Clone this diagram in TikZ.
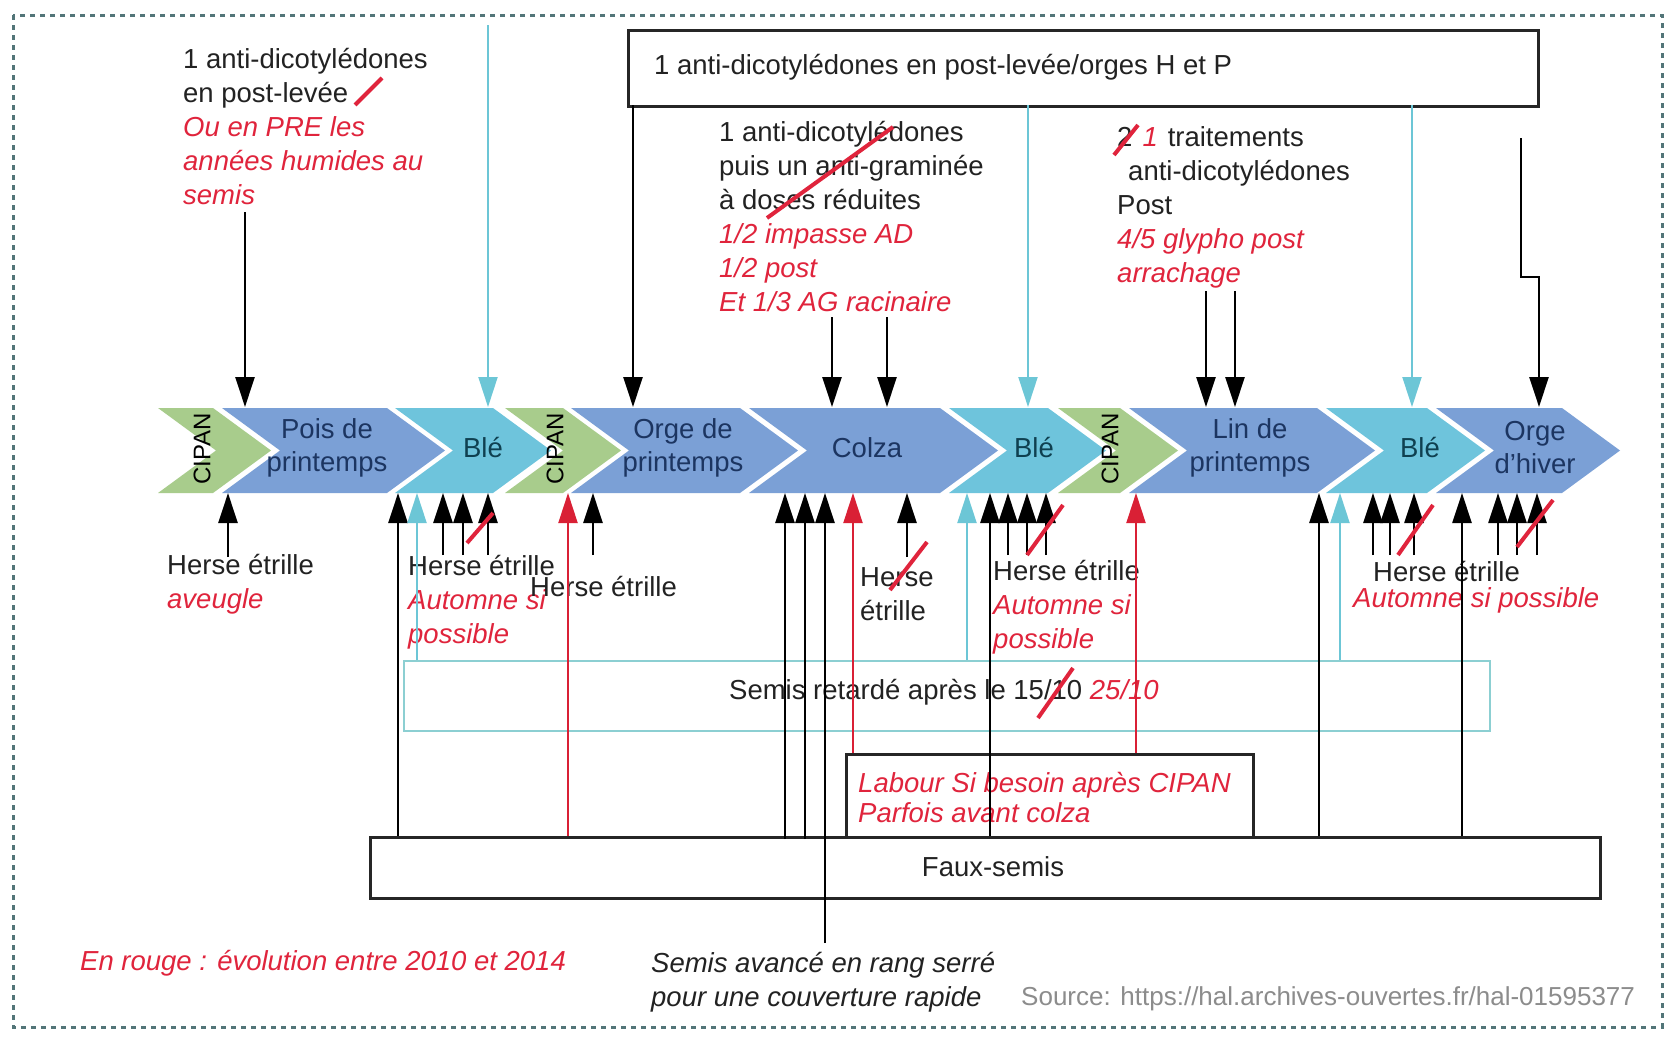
\documentclass[tikz,border=0pt]{standalone}
\usepackage{fontspec}
\setmainfont{Liberation Sans}
\usetikzlibrary{arrows.meta}
\definecolor{chblue}{HTML}{7BA0D6}
\definecolor{chcyan}{HTML}{6EC4DC}
\definecolor{chgreen}{HTML}{A8CC8C}
\definecolor{navy}{HTML}{1C3561}
\definecolor{bletxt}{HTML}{0F4050}
\definecolor{txtred}{HTML}{E0243C}
\definecolor{lnred}{HTML}{D92035}
\definecolor{lncyan}{HTML}{6CC6D6}
\definecolor{boxcyan}{HTML}{8CCFD2}
\definecolor{framecol}{HTML}{527578}
\definecolor{txtblack}{HTML}{222222}
\definecolor{srcgray}{HTML}{8C8C8C}
\newcommand\rt{\color{txtred}\itshape}
\newcommand\chevron[3]{\fill[#3] (#1,408) -- (#2,408) -- ({#2+58},450.5) -- (#2,493) -- (#1,493) -- ({#1+58},450.5) -- cycle;}
\tikzset{
  txt/.style={inner sep=0pt, align=left, anchor=north west, text=txtblack, font=\fontsize{27.5}{34}\selectfont},
  onel/.style={inner sep=0pt, anchor=west, text=txtblack, font=\fontsize{27.5}{34}\selectfont},
  chlab/.style={inner sep=0pt, align=center, text=navy, font=\fontsize{27.5}{33}\selectfont},
  cipan/.style={inner sep=0pt, rotate=90, text=black, font=\fontsize{24}{28}\selectfont},
  arr/.style={draw=black, line width=2.5pt, -{Triangle[length=30pt,width=19pt]}},
  carr/.style={draw=lncyan, line width=2pt, -{Triangle[length=30pt,width=19pt]}},
  rarr/.style={draw=lnred, line width=2pt, -{Triangle[length=30pt,width=19pt]}},
  slash/.style={draw=txtred, line width=4pt},
  bbox/.style={draw=black!85, line width=3pt, inner sep=0pt, anchor=north west},
  cbox/.style={draw=boxcyan, line width=2pt, inner sep=0pt, anchor=north west},
  frame/.style={draw=framecol, line width=3pt, dash pattern=on 5pt off 5pt}
}
\begin{document}
\begin{tikzpicture}[x=1pt,y=-1pt]
\useasboundingbox (0,0) rectangle (1668,1039);
\fill[white] (0,0) rectangle (1668,1039);
\draw[frame] (13,15) rectangle (1662,1027);

% chevrons
\chevron{158}{213}{chgreen}
\chevron{222}{387}{chblue}
\chevron{395}{493}{chcyan}
\chevron{505}{563}{chgreen}
\chevron{571}{740}{chblue}
\chevron{749}{940}{chblue}
\chevron{949}{1048}{chcyan}
\chevron{1058}{1120}{chgreen}
\chevron{1129}{1317}{chblue}
\chevron{1326}{1427}{chcyan}
\chevron{1436}{1562}{chblue}

\node[cipan] (cip1) at (202,449) {CIPAN};
\node[cipan] (cip2) at (555,449) {CIPAN};
\node[cipan] (cip3) at (1110,449) {CIPAN};
\node[chlab] (pois) at (327,448) {Pois de\\printemps};
\node[chlab, text=bletxt] (ble1) at (483,448) {Blé};
\node[chlab] (orgep) at (683,448) {Orge de\\printemps};
\node[chlab] (colza) at (867,448) {Colza};
\node[chlab, text=bletxt] (ble2) at (1034,448) {Blé};
\node[chlab] (lin) at (1250,448) {Lin de\\printemps};
\node[chlab, text=bletxt] (ble3) at (1420,448) {Blé};
\node[chlab] (orgeh) at (1535,448) {Orge\\d’hiver};

% boxes
\node[bbox, minimum width=910pt, minimum height=76pt] (topbox) at (627,29) {};
\node[onel] (topboxtxt) at (654,67) {1 anti-dicotylédones en post-levée/orges H et P};
\node[cbox, minimum width=1086pt, minimum height=70pt] (semisbox) at (403,660) {};
\node[onel] (semistxt) at (729,692) {Semis retardé après le 15/10 {\rt 25/10}};
\node[bbox, minimum width=407pt, minimum height=83pt] (labbox) at (845,753) {};
\node[txt, text=txtred, font=\fontsize{27.5}{30}\selectfont\itshape] (labtxt) at (858,772) {Labour Si besoin après CIPAN\\Parfois avant colza};
\node[bbox, minimum width=1230pt, minimum height=61pt] (fauxbox) at (369,836) {};
\node[onel, anchor=center] (fauxtxt) at (993,867) {Faux-semis};

% top texts
\node[txt] (ta) at (183,48) {1 anti-dicotylédones\\en post-levée\\{\rt Ou en PRE les}\\{\rt années humides au}\\{\rt semis}};
\node[txt] (tb) at (719,121) {1 anti-dicotylédones\\puis un anti-graminée\\à doses réduites\\{\rt 1/2 impasse AD}\\{\rt 1/2 post}\\{\rt Et 1/3 AG racinaire}};
\node[txt] (tc) at (1117,126) {2\hspace*{10pt}{\rt 1}\hspace*{10pt}traitements\\\hspace*{11pt}anti-dicotylédones\\Post\\{\rt 4/5 glypho post}\\{\rt arrachage}};

% lower texts
\node[txt] (h1) at (167,554) {Herse étrille\\{\rt aveugle}};
\node[txt] (h2) at (408,555) {Herse étrille\\{\rt Automne si}\\{\rt possible}};
\node[onel] (h3) at (530,587) {Herse étrille};
\node[txt] (h4) at (860,567) {Herse\\étrille};
\node[txt] (h5) at (993,560) {Herse étrille\\{\rt Automne si}\\{\rt possible}};
\node[onel] (h6) at (1373,572) {Herse étrille};
\node[onel, text=txtred, font=\fontsize{27.5}{34}\selectfont\itshape] (h6b) at (1353,600) {Automne si possible};
\node[onel, text=txtred, font=\fontsize{27.5}{34}\selectfont\itshape] (legend) at (80,963) {En rouge : évolution entre 2010 et 2014};
\node[txt, font=\fontsize{27.5}{34}\selectfont\itshape] (avance) at (651,952) {Semis avancé en rang serré\\pour une couverture rapide};
\node[onel, text=srcgray, font=\fontsize{26}{30}\selectfont] (src) at (1021,999) {Source: https://hal.archives-ouvertes.fr/hal-01595377};

% down arrows
\draw[arr] (245,212) -- (245,407);
\draw[carr] (488,25) -- (488,407);
\draw[arr] (633,105) -- (633,407);
\draw[carr] (1028,105) -- (1028,407);
\draw[carr] (1412,105) -- (1412,407);
\draw[arr] (832,317) -- (832,407);
\draw[arr] (887,317) -- (887,407);
\draw[arr] (1206,291) -- (1206,407);
\draw[arr] (1235,291) -- (1235,407);
\draw[arr] (1521,138) -- (1521,277) -- (1539,277) -- (1539,407);

% up arrows
\foreach \x in {443,463,488,593,1008,1027,1046,1373,1390,1414,1498,1517,1537}
  \draw[arr] (\x,555) -- (\x,493);
\draw[arr] (228,557) -- (228,493);
\draw[arr] (907,557) -- (907,493);
\foreach \x in {398,990,1319,1462}
  \draw[arr] (\x,836) -- (\x,493);
\draw[arr] (785,839) -- (785,493);
\draw[arr] (805,839) -- (805,493);
\draw[arr] (825,943) -- (825,493);
\foreach \x in {417,967,1340}
  \draw[carr] (\x,660) -- (\x,493);
\draw[rarr] (568,836) -- (568,493);
\draw[rarr] (853,753) -- (853,493);
\draw[rarr] (1136,753) -- (1136,493);

% red strike marks
\draw[slash] (355,105) -- (382,78);
\draw[slash] (767,218) -- (893,127);
\draw[slash] (1114,155) -- (1138,125);
\draw[slash] (467,543) -- (493,513);
\draw[slash] (890,590) -- (927,542);
\draw[slash] (1027,555) -- (1063,505);
\draw[slash] (1038,718) -- (1073,668);
\draw[slash] (1398,555) -- (1433,505);
\draw[slash] (1517,547) -- (1553,500);
\end{tikzpicture}
\end{document}
